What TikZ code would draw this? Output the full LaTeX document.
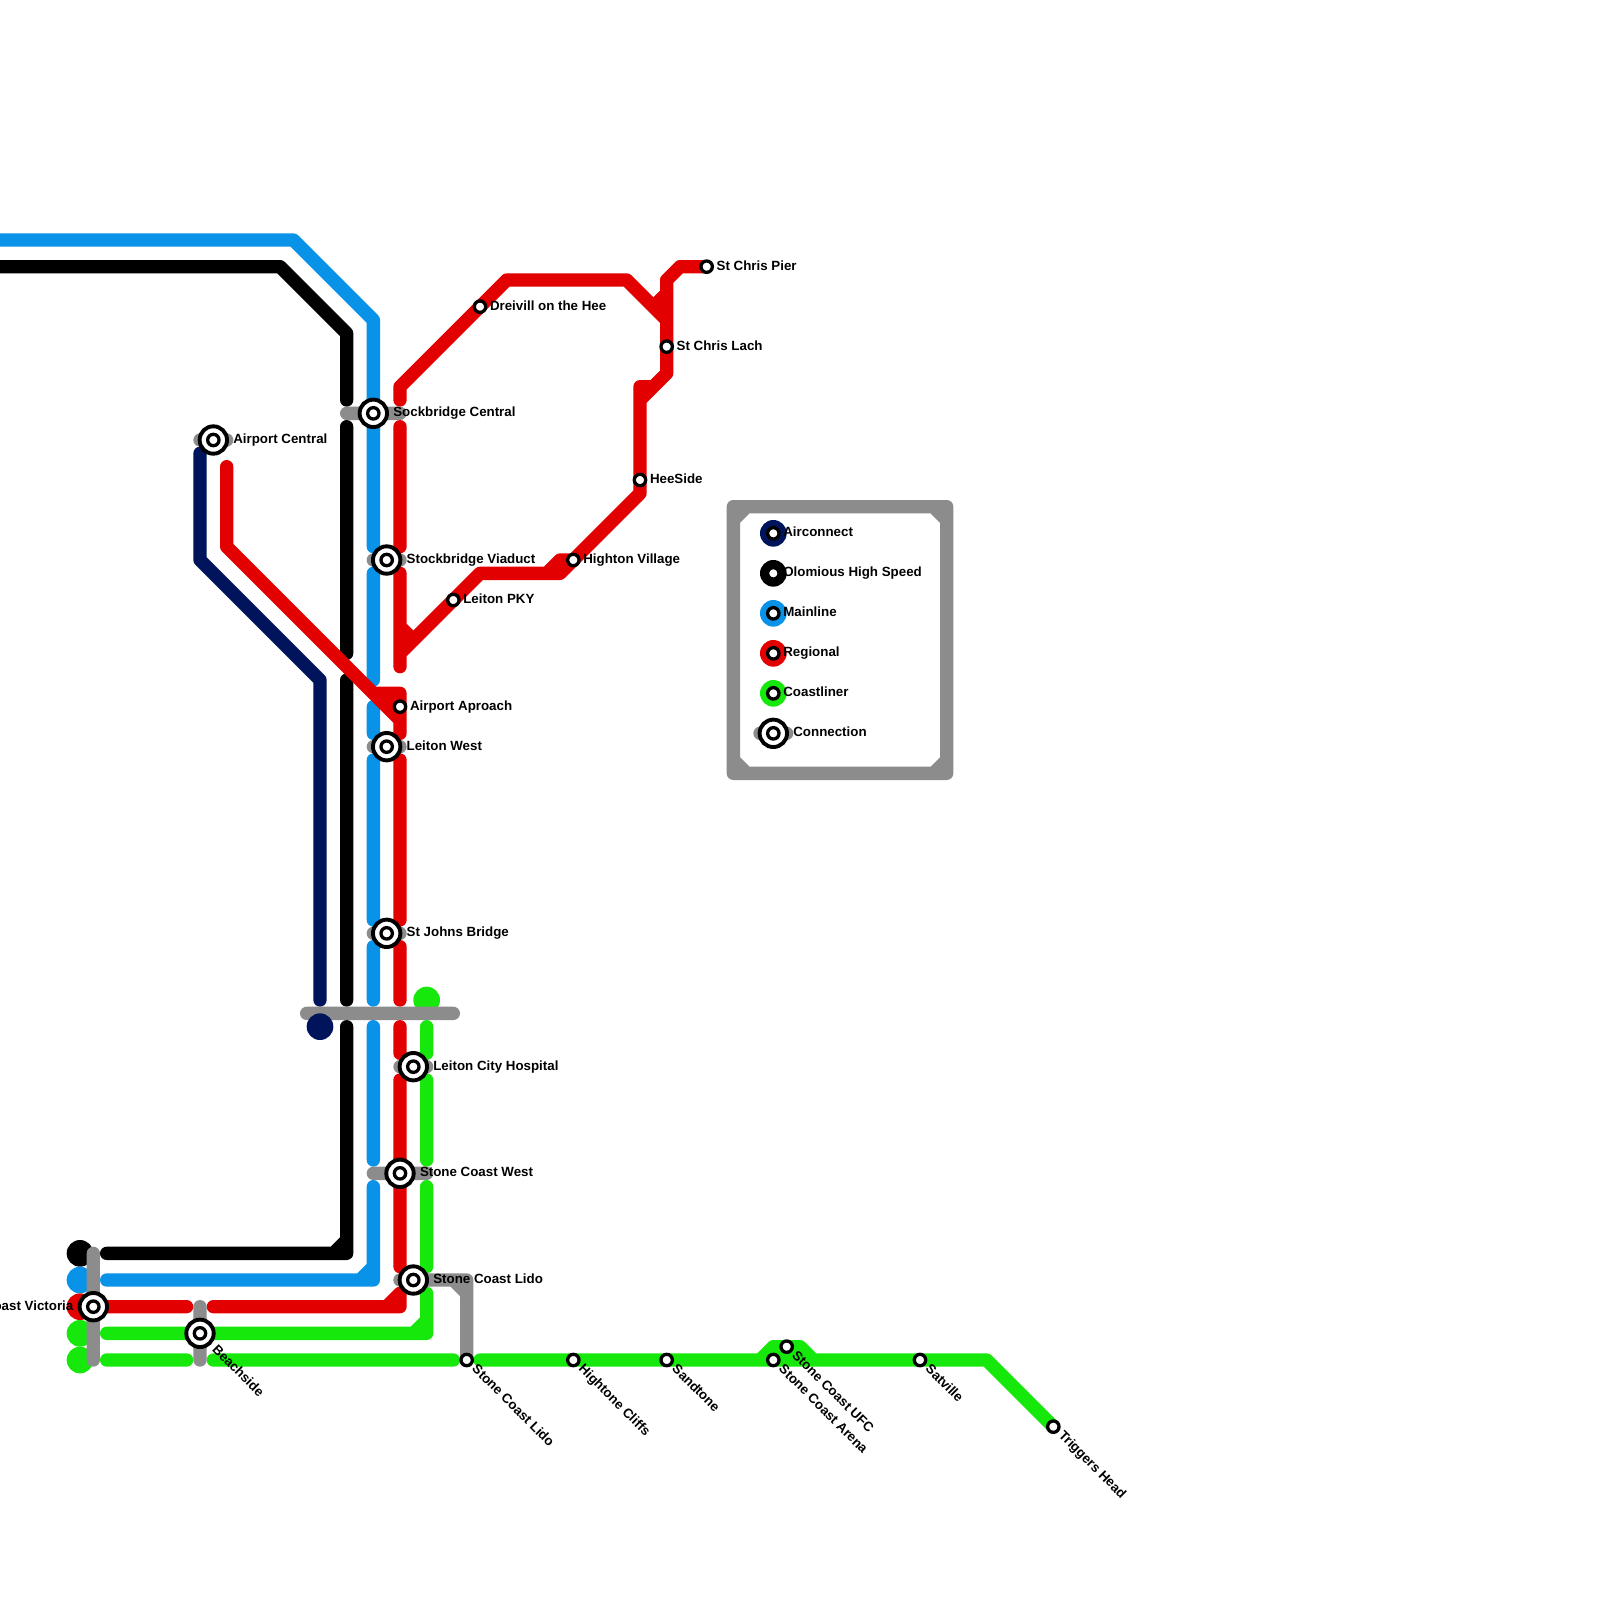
\documentclass[tikz,border=0pt]{standalone}
\usepackage{fontspec}
\setmainfont{Liberation Sans}
\definecolor{cnavy}{RGB}{0,20,92}
\definecolor{cblue}{RGB}{8,146,232}
\definecolor{cred}{RGB}{226,0,0}
\definecolor{cgreen}{RGB}{21,232,10}
\definecolor{cgrey}{RGB}{140,140,140}
\tikzset{
  ln/.style={line width=13.33pt,line cap=round,line join=round},
  endcap/.style={circle,minimum size=26.67pt,inner sep=0pt,outer sep=0pt},
  smallst/.style={circle,draw=black,fill=white,line width=3.3pt,minimum size=11.4pt,inner sep=0pt,outer sep=0pt},
  ringst/.style={circle,draw=black,fill=white,line width=3.9pt,minimum size=27.4pt,inner sep=0pt,outer sep=0pt},
  lbl/.style={inner sep=0pt,outer sep=0pt,text=black,font=\fontsize{13.33}{16}\selectfont\bfseries},
  lblr/.style={lbl,anchor=base west},
  lbld/.style={lbl,anchor=base west,rotate=-45},
}
\begin{document}
\begin{tikzpicture}[x=13.3333pt,y=-13.3333pt]
\useasboundingbox (0,0) rectangle (120,120);
\clip (0,0) rectangle (120,120);
\fill[white] (0,0) rectangle (120,120);

% Mainline
\draw[ln,cblue] (-1,18)--(22,18)--(28,24)--(28,41)
  (28,43)--(28,51) (28,53)--(28,55) (28,57)--(28,69) (28,71)--(28,75) (28,77)--(28,87)
  (28,89)--(28,96)--(8,96) (28,95)--(27,96);
% High speed
\draw[ln,black] (-1,20)--(21,20)--(26,25)--(26,30)
  (26,32)--(26,49) (26,51)--(26,75) (26,77)--(26,94)--(8,94) (26,93)--(25,94);
% Airconnect
\draw[ln,cnavy] (15,34)--(15,42)--(24,51)--(24,75);
% Regional
\draw[ln,cred] (17,35)--(17,41)--(30,54)
  (28,52)--(30,52)--(30,55) (29,52.5)--(30,53) (30,57)--(30,69) (30,71)--(30,75) (30,77)--(30,79)
  (30,81)--(30,95) (30,97)--(30,98)--(16,98) (30,97)--(29,98) (8,98)--(14,98)
  (30,30)--(30,29)--(38,21)--(47,21)--(50,24)
  (30,32)--(30,41) (30,43)--(30,50) (30,47)--(31,48)--(30,49)
  (31,48)--(36,43)--(42,43)--(48,37)--(48,29)--(49,29)
  (48,30)--(50,28)--(50,21)--(51,20)--(53,20)
  (49,23)--(50,22) (41,43)--(42,42)--(43,42);
% Coastliner
\draw[ln,cgreen] (32,97)--(32,100)--(8,100) (32,99)--(31,100)
  (8,102)--(14,102) (16,102)--(34,102) (36,102)--(74,102)--(79,107)
  (57,102)--(58,101)--(60,101)--(61,102)
  (32,77)--(32,79) (32,81)--(32,87) (32,89)--(32,95);

% Line terminus discs
\node[endcap,fill=black] (d1) at (6,94) {};
\node[endcap,fill=cblue] (d2) at (6,96) {};
\node[endcap,fill=cred] (d3) at (6,98) {};
\node[endcap,fill=cgreen] (d4) at (6,100) {};
\node[endcap,fill=cgreen] (d5) at (6,102) {};
\node[endcap,fill=cgreen] (d7) at (32,75) {};

% Connections
\draw[ln,cgrey] (23,76)--(34,76) (7,94)--(7,102) (15,98)--(15,102)
  (30,96)--(35,96)--(35,102) (34,96)--(35,97)
  (15,33)--(17,33) (26,31)--(30,31) (28,42)--(30,42) (28,56)--(30,56)
  (28,70)--(30,70) (30,80)--(32,80) (28,88)--(32,88);
\node[endcap,fill=cnavy] (d6) at (24,77) {};

% Legend
\draw[ln,cgrey] (55,38) rectangle (71,58)
  (55,39)--(56,38) (70,38)--(71,39) (55,57)--(56,58) (70,58)--(71,57)
  (57,55)--(59,55);
\node[endcap,fill=cnavy] (k1) at (58,40) {};
\node[endcap,fill=black] (k2) at (58,43) {};
\node[endcap,fill=cblue] (k3) at (58,46) {};
\node[endcap,fill=cred] (k4) at (58,49) {};
\node[endcap,fill=cgreen] (k5) at (58,52) {};

% Interchange stations, labels to the right
\foreach \n/\x/\y/\t in {aircen/16/33/Airport Central,sock/28/31/Sockbridge Central,
  stvia/29/42/Stockbridge Viaduct,leiw/29/56/Leiton West,stj/29/70/St Johns Bridge,
  hosp/31/80/Leiton City Hospital,scw/30/88/Stone Coast West,sclido/31/96/Stone Coast Lido,
  lconn/58/55/Connection}{
  \node[ringst] (\n) at (\x,\y) {};
  \node[smallst] (\n-i) at (\n) {};
  \node[lblr] (\n-l) at ([xshift=20pt,yshift=-3.5pt]\n) {\t};
}
% Interchange stations, other labels
\node[ringst] (vic) at (7,98) {};
\node[smallst] (vic-i) at (vic) {};
\node[lbl,anchor=base east] (vic-l) at ([xshift=-20pt,yshift=-3.5pt]vic) {Coast Victoria};
\node[ringst] (beach) at (15,100) {};
\node[smallst] (beach-i) at (beach) {};
\node[lbld] (beach-l) at ([xshift=11.5pt,yshift=-17pt]beach) {Beachside};

% Plain stations, labels to the right
\foreach \n/\x/\y/\t in {drei/36/23/Dreivill on the Hee,pier/53/20/St Chris Pier,lach/50/26/St Chris Lach,
  hee/48/36/HeeSide,highv/43/42/Highton Village,pky/34/45/Leiton PKY,aprch/30/53/Airport Aproach,
  k1s/58/40/Airconnect,k2s/58/43/Olomious High Speed,k3s/58/46/Mainline,k4s/58/49/Regional,k5s/58/52/Coastliner}{
  \node[smallst] (\n) at (\x,\y) {};
  \node[lblr] (\n-l) at ([xshift=10pt,yshift=-3.5pt]\n) {\t};
}
% Plain stations, labels on the diagonal
\foreach \n/\x/\y/\t in {lido2/35/102/Stone Coast Lido,cliffs/43/102/Hightone Cliffs,sand/50/102/Sandtone,
  arena/58/102/Stone Coast Arena,ufc/59/101/Stone Coast UFC,sat/69/102/Satville,trig/79/107/Triggers Head}{
  \node[smallst] (\n) at (\x,\y) {};
  \node[lbld] (\n-l) at ([xshift=4.8pt,yshift=-9.7pt]\n) {\t};
}
\end{tikzpicture}
\end{document}
